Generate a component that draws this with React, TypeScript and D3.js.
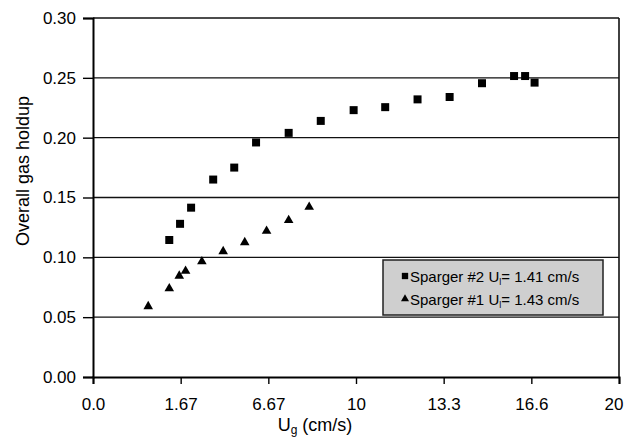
import React, { useEffect, useRef } from "react";
import * as d3 from "d3";

// values
const xTickValues = [0, 20 / 6, 40 / 6, 10, 80 / 6, 100 / 6, 20];
const xTickLabels = ["0.0", "1.67", "6.67", "10", "13.3", "16.6", "20"];
const yTickValues = [0, 0.05, 0.1, 0.15, 0.2, 0.25, 0.3];

const sparger2X = [2.9, 3.31, 3.73, 4.57, 5.37, 6.2, 7.44, 8.66, 9.91, 11.11, 12.34, 13.56, 14.79, 16.01, 16.43, 16.79];
const sparger2Y = [0.1145, 0.128, 0.1415, 0.165, 0.175, 0.196, 0.204, 0.214, 0.223, 0.2255, 0.232, 0.234, 0.2455, 0.2515, 0.2515, 0.246];
const sparger1X = [2.1, 2.9, 3.28, 3.52, 4.14, 4.95, 5.77, 6.6, 7.44, 8.22];
const sparger1Y = [0.059, 0.074, 0.0845, 0.0885, 0.0965, 0.105, 0.1125, 0.122, 0.131, 0.142];

const legendItems = [
  { name: "Sparger #2 U", ul: "= 1.41 cm/s", shape: d3.symbolSquare, size: 40 },
  { name: "Sparger #1 U", ul: "= 1.43 cm/s", shape: d3.symbolTriangle, size: 28 },
];

const W = 624;
const H = 440;
const FONT = "Arial, 'Liberation Sans', Helvetica, sans-serif";

const App = () => {
  const ref = useRef<SVGSVGElement>(null);

  useEffect(() => {
    const svg = d3.select(ref.current);
    svg.selectAll("*").remove();

    const x = d3.scaleLinear().domain([0, 20]).range([93, 619]);
    const y = d3.scaleLinear().domain([0, 0.3]).range([377, 18]);

    // horizontal grid lines
    svg
      .append("g")
      .selectAll("line")
      .data(yTickValues.slice(1))
      .join("line")
      .attr("x1", x(0))
      .attr("x2", x(20))
      .attr("y1", (d) => y(d))
      .attr("y2", (d) => y(d))
      .attr("stroke", "#111")
      .attr("stroke-width", 1.4);

    // right border
    svg
      .append("line")
      .attr("x1", x(20))
      .attr("x2", x(20))
      .attr("y1", y(0.3))
      .attr("y2", y(0))
      .attr("stroke", "#111")
      .attr("stroke-width", 1.6);

    // y axis
    const yAxis = svg
      .append("g")
      .attr("transform", `translate(${x(0)},0)`)
      .call(
        d3
          .axisLeft(y)
          .tickValues(yTickValues)
          .tickFormat(d3.format(".2f"))
          .tickSize(10)
          .tickPadding(7)
      );

    // x axis
    const xAxis = svg
      .append("g")
      .attr("transform", `translate(0,${y(0)})`)
      .call(
        d3
          .axisBottom(x)
          .tickValues(xTickValues)
          .tickFormat((d, i) => xTickLabels[i])
          .tickSize(7)
          .tickPadding(14)
      );

    [xAxis, yAxis].forEach((g) => {
      g.select(".domain").attr("stroke", "#000").attr("stroke-width", 2);
      g.selectAll(".tick line").attr("stroke", "#000").attr("stroke-width", 1.4);
      g.selectAll(".tick text")
        .attr("fill", "#000")
        .style("font-family", FONT)
        .style("font-size", "17px");
    });
    // keep the last x label inside the picture
    xAxis
      .selectAll(".tick text")
      .filter((d, i) => i === xTickLabels.length - 1)
      .attr("text-anchor", "end")
      .attr("dx", "4px");

    // Sparger #2 squares
    svg
      .append("g")
      .selectAll("path")
      .data(d3.zip(sparger2X, sparger2Y))
      .join("path")
      .attr("transform", (d) => `translate(${x(d[0])},${y(d[1])})`)
      .attr("d", d3.symbol(d3.symbolSquare, 64)())
      .attr("fill", "#000");

    // Sparger #1 triangles
    svg
      .append("g")
      .selectAll("path")
      .data(d3.zip(sparger1X, sparger1Y))
      .join("path")
      .attr("transform", (d) => `translate(${x(d[0])},${y(d[1])})`)
      .attr("d", d3.symbol(d3.symbolTriangle, 40)())
      .attr("fill", "#000");

    // axis titles
    svg
      .append("text")
      .attr("transform", "translate(29,171) rotate(-90)")
      .attr("text-anchor", "middle")
      .style("font-family", FONT)
      .style("font-size", "18px")
      .text("Overall gas holdup");

    const xt = svg
      .append("text")
      .attr("x", 315)
      .attr("y", 431)
      .attr("text-anchor", "middle")
      .style("font-family", FONT)
      .style("font-size", "18px");
    xt.append("tspan").text("U");
    xt.append("tspan").attr("dy", 3).style("font-size", "12px").text("g");
    xt.append("tspan").attr("dy", -3).text(" (cm/s)");

    // legend
    const lg = svg.append("g").attr("transform", "translate(383,260)");
    lg.append("rect")
      .attr("width", 220)
      .attr("height", 55)
      .attr("fill", "#cfcfcf")
      .attr("stroke", "#222")
      .attr("stroke-width", 1.5);
    legendItems.forEach((item, i) => {
      const row = lg.append("g").attr("transform", `translate(0,${16 + i * 23})`);
      row
        .append("path")
        .attr("transform", "translate(22,0)")
        .attr("d", d3.symbol(item.shape, item.size)())
        .attr("fill", "#000");
      const t = row
        .append("text")
        .attr("x", 27)
        .attr("y", 6)
        .style("font-family", FONT)
        .style("font-size", "15px");
      t.append("tspan").text(item.name);
      t.append("tspan").attr("dy", 3).style("font-size", "9px").text("l");
      t.append("tspan").attr("dy", -3).text(item.ul);
    });
  }, []);

  return (
    <svg
      ref={ref}
      width={W}
      height={H}
      style={{ position: "absolute", left: 0, top: 0, background: "#fff" }}
    ></svg>
  );
};

export default App;
